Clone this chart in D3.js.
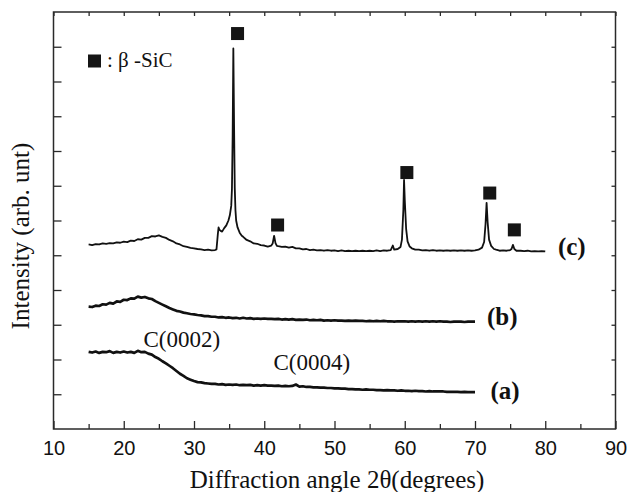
<!DOCTYPE html>
<html>
<head>
<meta charset="utf-8">
<script src="https://cdn.jsdelivr.net/npm/d3@7"></script>
<style>
  body { margin: 0; background: #fff; }
  svg { display: block; }
</style>
</head>
<body>
<div id="chart"></div>
<script>
// XRD patterns (a), (b), (c) with beta-SiC peak markers

// shared scan angles for (a) and (b), degrees 2-theta
const angleAB = [
  15, 15.5, 16, 16.5, 17, 17.5, 18, 18.5, 19, 19.5,
  20, 20.5, 21, 21.5, 22, 22.5, 23, 23.5, 24, 24.5,
  25, 25.5, 26, 26.5, 27, 27.5, 28, 28.5, 29, 29.5,
  30, 30.5, 31, 31.5, 32, 32.5, 33, 33.5, 34, 34.5,
  35, 35.5, 36, 36.5, 37, 37.5, 38, 38.5, 39, 39.5,
  40, 40.5, 41, 41.5, 42, 42.5, 43, 43.5, 44, 44.5,
  45, 45.5, 46, 46.5, 47, 47.5, 48, 48.5, 49, 49.5,
  50, 50.5, 51, 51.5, 52, 52.5, 53, 53.5, 54, 54.5,
  55, 55.5, 56, 56.5, 57, 57.5, 58, 58.5, 59, 59.5,
  60, 60.5, 61, 61.5, 62, 62.5, 63, 63.5, 64, 64.5,
  65, 65.5, 66, 66.5, 67, 67.5, 68, 68.5, 69, 69.5,
  70
];

const intensityA = [
  2.22, 2.20, 2.23, 2.19, 2.22, 2.21, 2.24, 2.19, 2.22, 2.20,
  2.23, 2.20, 2.22, 2.19, 2.25, 2.21, 2.22, 2.17, 2.14, 2.07,
  2.02, 1.95, 1.89, 1.82, 1.75, 1.67, 1.59, 1.53, 1.46, 1.42,
  1.38, 1.35, 1.34, 1.32, 1.31, 1.30, 1.30, 1.28, 1.29, 1.27,
  1.28, 1.27, 1.28, 1.26, 1.27, 1.26, 1.27, 1.25, 1.26, 1.25,
  1.26, 1.25, 1.25, 1.24, 1.25, 1.23, 1.24, 1.23, 1.24, 1.28,
  1.22, 1.23, 1.21, 1.21, 1.20, 1.20, 1.19, 1.19, 1.18, 1.18,
  1.17, 1.17, 1.16, 1.16, 1.15, 1.15, 1.14, 1.14, 1.13, 1.14,
  1.13, 1.13, 1.12, 1.12, 1.11, 1.12, 1.11, 1.11, 1.10, 1.11,
  1.10, 1.10, 1.09, 1.10, 1.09, 1.09, 1.08, 1.09, 1.08, 1.08,
  1.08, 1.08, 1.07, 1.07, 1.07, 1.07, 1.06, 1.07, 1.06, 1.06,
  1.06
];

const intensityB = [
  3.52, 3.51, 3.55, 3.54, 3.59, 3.58, 3.63, 3.61, 3.67, 3.66,
  3.72, 3.71, 3.76, 3.75, 3.81, 3.78, 3.80, 3.76, 3.74, 3.68,
  3.63, 3.58, 3.53, 3.48, 3.44, 3.40, 3.38, 3.35, 3.33, 3.31,
  3.30, 3.28, 3.27, 3.25, 3.25, 3.23, 3.23, 3.21, 3.22, 3.20,
  3.21, 3.19, 3.20, 3.18, 3.20, 3.18, 3.19, 3.17, 3.18, 3.17,
  3.18, 3.17, 3.17, 3.16, 3.17, 3.15, 3.16, 3.15, 3.16, 3.14,
  3.15, 3.14, 3.15, 3.13, 3.14, 3.13, 3.14, 3.12, 3.13, 3.12,
  3.13, 3.12, 3.12, 3.11, 3.12, 3.11, 3.12, 3.11, 3.11, 3.10,
  3.11, 3.10, 3.11, 3.10, 3.11, 3.10, 3.10, 3.09, 3.10, 3.10,
  3.10, 3.09, 3.10, 3.09, 3.10, 3.09, 3.10, 3.09, 3.10, 3.09,
  3.10, 3.09, 3.09, 3.08, 3.09, 3.09, 3.09, 3.08, 3.09, 3.09,
  3.09
];

// (c) is sampled finer around the peaks
const angleC = [
  15, 15.5, 16, 16.5, 17, 17.5, 18, 18.5, 19, 19.5,
  20, 20.5, 21, 21.5, 22, 22.5, 23, 23.5, 24, 24.5,
  25, 25.5, 26, 26.5, 27, 27.5, 28, 28.5, 29, 29.5,
  30, 30.5, 31, 31.5, 32, 32.5, 33,
  33.2, 33.4, 33.5, 33.6, 33.8, 34.0, 34.3, 34.6, 34.9, 35.1,
  35.3, 35.4, 35.5, 35.6, 35.7, 35.8, 35.9, 36.0, 36.2, 36.5,
  36.8, 37.0, 37.5, 38.0, 38.5, 39, 39.5, 40, 40.5, 41,
  41.2, 41.4, 41.6, 41.8, 42, 42.5, 43, 43.5, 44, 44.5,
  45, 45.5, 46, 46.5, 47, 47.5, 48, 48.5, 49, 49.5,
  50, 50.5, 51, 51.5, 52, 52.5, 53, 53.5, 54, 54.5,
  55, 55.5, 56, 56.5, 57, 57.5, 58, 58.3, 58.5, 59,
  59.4, 59.6, 59.8, 59.9, 60.0, 60.2, 60.4, 60.7, 61, 61.5,
  62, 62.5, 63, 63.5, 64, 64.5, 65, 65.5, 66, 66.5,
  67, 67.5, 68, 68.5, 69, 69.5, 70, 70.5, 71, 71.3,
  71.5, 71.65, 71.8, 72.0, 72.3, 72.7, 73, 73.5, 74, 74.5,
  75, 75.2, 75.4, 75.6, 75.9, 76.5, 77, 77.5, 78, 78.5,
  79, 79.5, 80
];

const intensityC = [
  5.31, 5.29, 5.32, 5.31, 5.34, 5.33, 5.35, 5.34, 5.37, 5.36,
  5.39, 5.38, 5.42, 5.41, 5.46, 5.45, 5.50, 5.50, 5.55, 5.54,
  5.57, 5.53, 5.50, 5.44, 5.40, 5.34, 5.31, 5.26, 5.24, 5.21,
  5.20, 5.18, 5.17, 5.15, 5.16, 5.14, 5.15,
  5.17, 5.62, 5.80, 5.74, 5.70, 5.68, 5.78, 5.86, 6.00, 6.15,
  6.42, 6.90, 8.40, 10.95, 8.80, 6.95, 6.30, 6.00, 5.80, 5.65,
  5.56, 5.53, 5.44, 5.40, 5.34, 5.33, 5.29, 5.28, 5.25, 5.28,
  5.34, 5.56, 5.35, 5.27, 5.26, 5.24, 5.25, 5.22, 5.24, 5.20,
  5.20, 5.17, 5.18, 5.15, 5.16, 5.14, 5.15, 5.13, 5.15, 5.13,
  5.14, 5.12, 5.14, 5.12, 5.13, 5.12, 5.13, 5.12, 5.13, 5.12,
  5.13, 5.12, 5.14, 5.12, 5.14, 5.13, 5.15, 5.28, 5.16, 5.18,
  5.24, 5.45, 6.30, 7.17, 6.60, 5.75, 5.40, 5.25, 5.20, 5.16,
  5.16, 5.14, 5.15, 5.13, 5.15, 5.13, 5.14, 5.13, 5.14, 5.13,
  5.14, 5.13, 5.14, 5.13, 5.14, 5.13, 5.14, 5.16, 5.22, 5.38,
  5.90, 6.51, 5.95, 5.45, 5.27, 5.18, 5.16, 5.13, 5.14, 5.13,
  5.15, 5.18, 5.30, 5.18, 5.13, 5.13, 5.12, 5.13, 5.11, 5.12,
  5.11, 5.12, 5.11
];

// beta-SiC markers
const markerAngle = [36.2, 41.9, 60.3, 72.1, 75.6];
const markerLevel = [11.38, 5.87, 7.38, 6.79, 5.73];

const xTicksMajor = [10, 20, 30, 40, 50, 60, 70, 80, 90];
const xTicksMinor = [15, 25, 35, 45, 55, 65, 75, 85];
const yTicks = [1, 2, 3, 4, 5, 6, 7, 8, 9, 10, 11];

const width = 627, height = 492;
const margin = { top: 12, right: 11.5, bottom: 63, left: 53.5 };
const plotW = width - margin.left - margin.right;
const plotH = height - margin.top - margin.bottom;

const x = d3.scaleLinear().domain([10, 90]).range([0, plotW]);
const y = d3.scaleLinear().domain([0, 12]).range([plotH, 0]);

const svg = d3.select("#chart").append("svg")
    .attr("width", width)
    .attr("height", height);

const g = svg.append("g").attr("transform", `translate(${margin.left},${margin.top})`);

const frameColor = "#2a2a2a";

// axes, ticks pointing inward
g.append("g")
    .attr("class", "x-major")
    .attr("transform", `translate(0,${plotH})`)
    .call(d3.axisBottom(x).tickValues(xTicksMajor).tickSize(-8).tickSizeOuter(0).tickPadding(12).tickFormat(d3.format("d")));

g.append("g")
    .attr("class", "x-minor")
    .attr("transform", `translate(0,${plotH})`)
    .call(d3.axisBottom(x).tickValues(xTicksMinor).tickSize(-5).tickSizeOuter(0).tickFormat(""));

g.append("g")
    .attr("class", "x-top")
    .call(d3.axisTop(x).tickValues(xTicksMinor.concat(xTicksMajor)).tickSize(-4).tickSizeOuter(0).tickFormat(""));

g.append("g")
    .attr("class", "y-left")
    .call(d3.axisLeft(y).tickValues(yTicks).tickSize(-8).tickSizeOuter(0).tickFormat(""));

g.append("g")
    .attr("class", "y-right")
    .attr("transform", `translate(${plotW},0)`)
    .call(d3.axisRight(y).tickValues(yTicks).tickSize(-4).tickSizeOuter(0).tickFormat(""));

g.selectAll(".domain").remove();
g.selectAll(".tick line").attr("stroke", frameColor).attr("stroke-width", 1.3);
g.selectAll(".x-major text")
    .attr("font-family", "'Liberation Sans', Arial, sans-serif")
    .attr("font-size", 20)
    .attr("fill", "#111");

g.append("rect")
    .attr("width", plotW)
    .attr("height", plotH)
    .attr("fill", "none")
    .attr("stroke", frameColor)
    .attr("stroke-width", 1.5);

// curves
const line = d3.line().x(d => x(d[0])).y(d => y(d[1]));

const seriesA = angleAB.map((a, i) => [a, intensityA[i]]);
const seriesB = angleAB.map((a, i) => [a, intensityB[i]]);
const seriesC = angleC.map((a, i) => [a, intensityC[i]]);

g.append("path").datum(seriesA)
    .attr("d", line).attr("fill", "none")
    .attr("stroke", "#111").attr("stroke-width", 2.7).attr("stroke-linejoin", "round");

g.append("path").datum(seriesB)
    .attr("d", line).attr("fill", "none")
    .attr("stroke", "#111").attr("stroke-width", 2.7).attr("stroke-linejoin", "round");

g.append("path").datum(seriesC)
    .attr("d", line).attr("fill", "none")
    .attr("stroke", "#111").attr("stroke-width", 1.8).attr("stroke-linejoin", "round");

// markers
const sq = 13;
g.selectAll("rect.marker")
    .data(markerAngle.map((a, i) => [a, markerLevel[i]]))
    .join("rect")
    .attr("class", "marker")
    .attr("x", d => x(d[0]) - sq / 2)
    .attr("y", d => y(d[1]) - sq / 2)
    .attr("width", sq)
    .attr("height", sq)
    .attr("fill", "#151515");

// legend
const serif = "'Liberation Serif', 'Times New Roman', serif";
svg.append("rect")
    .attr("x", 88).attr("y", 54.5)
    .attr("width", 13).attr("height", 13)
    .attr("fill", "#151515");
svg.append("text")
    .attr("x", 107).attr("y", 67)
    .attr("font-family", serif).attr("font-size", 21).attr("fill", "#111")
    .text(": β -SiC");

// series labels
const seriesLabels = [
  { text: "(c)", at: [81.8, 5.0] },
  { text: "(b)", at: [71.7, 2.98] },
  { text: "(a)", at: [72.2, 0.85] }
];
g.selectAll("text.slabel")
    .data(seriesLabels)
    .join("text")
    .attr("class", "slabel")
    .attr("x", d => x(d.at[0]))
    .attr("y", d => y(d.at[1]))
    .attr("font-family", serif).attr("font-size", 25).attr("font-weight", "bold").attr("fill", "#111")
    .text(d => d.text);

// peak annotations
const peakNotes = [
  { text: "C(0002)", at: [22.8, 2.36] },
  { text: "C(0004)", at: [41.3, 1.7] }
];
g.selectAll("text.pnote")
    .data(peakNotes)
    .join("text")
    .attr("class", "pnote")
    .attr("x", d => x(d.at[0]))
    .attr("y", d => y(d.at[1]))
    .attr("font-family", serif).attr("font-size", 23).attr("fill", "#111")
    .text(d => d.text);

// axis titles
svg.append("text")
    .attr("x", 337).attr("y", 488)
    .attr("text-anchor", "middle")
    .attr("font-family", serif).attr("font-size", 25).attr("fill", "#111")
    .text("Diffraction angle 2θ(degrees)");

svg.append("text")
    .attr("transform", "translate(29,236) rotate(-90)")
    .attr("text-anchor", "middle")
    .attr("font-family", serif).attr("font-size", 25).attr("fill", "#111")
    .text("Intensity (arb. unt)");
</script>
</body>
</html>
